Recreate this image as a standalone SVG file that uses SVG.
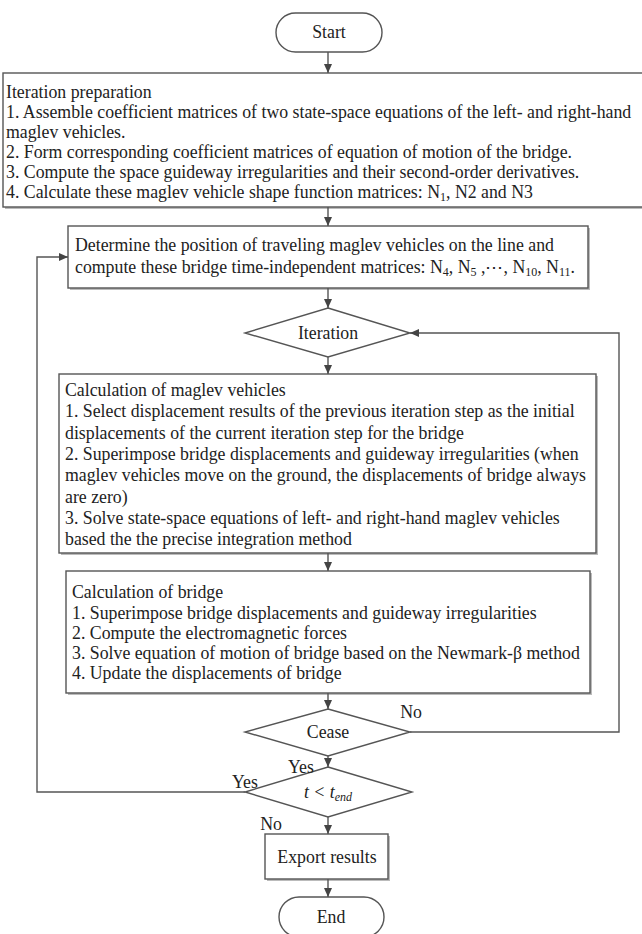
<svg xmlns="http://www.w3.org/2000/svg" width="642" height="934" viewBox="0 0 642 934">
<defs>
<marker id="ah" markerWidth="9" markerHeight="8" refX="9" refY="4" orient="auto" markerUnits="userSpaceOnUse">
<path d="M0,0 L9,4 L0,8 z" fill="#444"/>
</marker>
<style>
.box{fill:#fff;stroke:#555;stroke-width:1.4}
.sh{fill:#bbb;stroke:none}
.t{font-family:"Liberation Serif","Times New Roman",serif;font-size:17.8px;fill:#222}
.c{text-anchor:middle}
.ln{fill:none;stroke:#555;stroke-width:1.4}
.sub{font-size:12px}
</style>
</defs>
<rect width="642" height="934" fill="#fff"/>

<g id="start">
<rect x="276" y="13" width="106" height="39" rx="19.5" class="box"/>
<text x="329" y="38" class="t c">Start</text>
</g>

<g id="prep">
<rect x="5" y="75" width="640" height="134" class="sh"/>
<rect x="3" y="73" width="640" height="134" class="box"/>
<text class="t" x="6" y="98">Iteration preparation</text>
<text class="t" x="6" y="118">1. Assemble coefficient matrices of two state-space equations of the left- and right-hand</text>
<text class="t" x="6" y="138">maglev vehicles.</text>
<text class="t" x="6" y="158">2. Form corresponding coefficient matrices of equation of motion of the bridge.</text>
<text class="t" x="6" y="178">3. Compute the space guideway irregularities and their second-order derivatives.</text>
<text class="t" x="6" y="198">4. Calculate these maglev vehicle shape function matrices: N<tspan class="sub" dy="3">1</tspan><tspan dy="-3">, N2 and N3</tspan></text>
</g>

<g id="determine">
<rect x="70" y="228" width="520" height="62" class="sh"/>
<rect x="68" y="226" width="520" height="62" class="box"/>
<text class="t" x="75" y="251">Determine the position of traveling maglev vehicles on the line and</text>
<text class="t" x="75" y="273">compute these bridge time-independent matrices: N<tspan class="sub" dy="3">4</tspan><tspan dy="-3">, N</tspan><tspan class="sub" dy="3">5</tspan><tspan dy="-3"> ,⋯,  N</tspan><tspan class="sub" dy="3">10</tspan><tspan dy="-3">, N</tspan><tspan class="sub" dy="3">11</tspan><tspan dy="-3">.</tspan></text>
</g>

<g id="iteration">
<polygon points="328,308 410,333 328,357 245,333" class="box"/>
<text x="328" y="339" class="t c">Iteration</text>
</g>

<g id="maglev">
<rect x="61" y="376" width="537" height="179" class="sh"/>
<rect x="59" y="374" width="537" height="179" class="box"/>
<text class="t" x="65" y="396">Calculation of maglev vehicles</text>
<text class="t" x="65" y="417">1. Select displacement results of the previous iteration step as the initial</text>
<text class="t" x="65" y="438.5">displacements of the current iteration step for the bridge</text>
<text class="t" x="65" y="460">2. Superimpose bridge displacements and guideway irregularities (when</text>
<text class="t" x="65" y="481">maglev vehicles move on the ground, the displacements of bridge always</text>
<text class="t" x="65" y="502.5">are zero)</text>
<text class="t" x="65" y="524">3. Solve state-space equations of left- and right-hand maglev vehicles</text>
<text class="t" x="65" y="545">based the the precise integration method</text>
</g>

<g id="bridge">
<rect x="68" y="573" width="524" height="122" class="sh"/>
<rect x="66" y="571" width="524" height="122" class="box"/>
<text class="t" x="72" y="598">Calculation of bridge</text>
<text class="t" x="72" y="618.5">1. Superimpose bridge displacements and guideway irregularities</text>
<text class="t" x="72" y="639">2. Compute the electromagnetic forces</text>
<text class="t" x="72" y="659">3. Solve equation of motion of bridge based on the Newmark-β method</text>
<text class="t" x="72" y="679">4. Update the displacements of bridge</text>
</g>

<g id="cease">
<polygon points="328,709 410,732 328,756 245,732" class="box"/>
<text x="328" y="738" class="t c">Cease</text>
</g>

<g id="tcheck">
<polygon points="328,767 412,792 328,817 245,792" class="box"/>
<text x="328" y="798" class="t c" font-style="italic">t &lt; t<tspan class="sub" dy="3">end</tspan></text>
</g>

<g id="export">
<rect x="267" y="836" width="123" height="45" class="sh"/>
<rect x="265" y="834" width="123" height="45" class="box"/>
<text x="327" y="863" class="t c">Export results</text>
</g>

<g id="end">
<rect x="279" y="897" width="105" height="40" rx="20" class="box"/>
<text x="331" y="923" class="t c">End</text>
</g>

<g id="connectors">
<line x1="328" y1="52" x2="328" y2="73" class="ln" marker-end="url(#ah)"/>
<line x1="328" y1="207" x2="328" y2="226" class="ln" marker-end="url(#ah)"/>
<line x1="328" y1="288" x2="328" y2="308" class="ln" marker-end="url(#ah)"/>
<line x1="328" y1="357" x2="328" y2="374" class="ln" marker-end="url(#ah)"/>
<line x1="328" y1="553" x2="328" y2="571" class="ln" marker-end="url(#ah)"/>
<line x1="328" y1="693" x2="328" y2="709" class="ln" marker-end="url(#ah)"/>
<line x1="328" y1="756" x2="328" y2="767" class="ln" marker-end="url(#ah)"/>
<line x1="328" y1="817" x2="328" y2="834" class="ln" marker-end="url(#ah)"/>
<line x1="328" y1="879" x2="328" y2="897" class="ln" marker-end="url(#ah)"/>
<polyline points="410,732 619,732 619,333 410,333" class="ln" marker-end="url(#ah)"/>
<polyline points="245,792 37,792 37,257 68,257" class="ln" marker-end="url(#ah)"/>
<text x="411" y="718" class="t c">No</text>
<text x="301" y="773" class="t c">Yes</text>
<text x="245" y="788" class="t c">Yes</text>
<text x="271" y="830" class="t c">No</text>
</g>
</svg>
